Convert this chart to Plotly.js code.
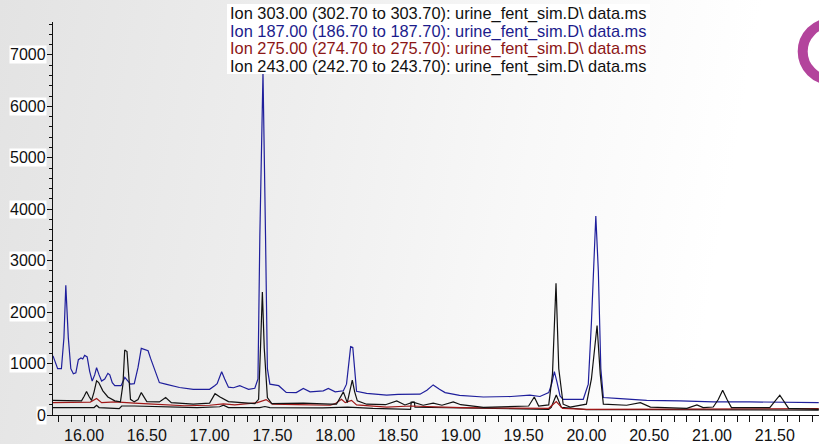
<!DOCTYPE html>
<html>
<head>
<meta charset="utf-8">
<script src="https://cdn.plot.ly/plotly-3.0.1.min.js"></script>
<style>
html,body{margin:0;padding:0;}
body{width:819px;height:444px;overflow:hidden;background:linear-gradient(100deg,#e3e3e3 0%,#eeeeee 35%,#f8f8f8 62%,#ffffff 85%);}
#chart{width:819px;height:444px;}
</style>
</head>
<body>
<div id="chart"></div>
<script>
// Legend lines (ion traces)
const legendLabels = [
  "Ion 303.00 (302.70 to 303.70): urine_fent_sim.D\\ data.ms",
  "Ion 187.00 (186.70 to 187.70): urine_fent_sim.D\\ data.ms",
  "Ion 275.00 (274.70 to 275.70): urine_fent_sim.D\\ data.ms",
  "Ion 243.00 (242.70 to 243.70): urine_fent_sim.D\\ data.ms"
];
const yTickValues = [0, 1000, 2000, 3000, 4000, 5000, 6000, 7000];
const yTickLabels = ["0", "1000", "2000", "3000", "4000", "5000", "6000", "7000"];

// Ion 303 (low black trace)
const rt303 = [15.753,16.08,16.10,16.12,16.28,16.30,16.40,16.70,16.90,17.08,17.11,17.15,17.40,17.44,17.48,17.90,18.10,18.30,18.55,18.60,18.605,18.63,18.635,19.00,19.40,19.70,19.72,19.76,19.80,20.00,20.50,21.00,21.50,21.85];
const int303 = [145,145,190,145,125,175,175,160,145,160,190,145,145,165,145,140,155,130,110,110,250,250,150,140,120,110,150,390,150,105,105,100,100,95];

// Ion 187 (blue trace)
const rt187 = [15.753,15.775,15.79,15.82,15.84,15.855,15.875,15.895,15.915,15.935,15.955,15.976,15.99,16.005,16.025,16.045,16.065,16.085,16.10,16.12,16.14,16.165,16.19,16.205,16.225,16.245,16.295,16.325,16.345,16.37,16.40,16.43,16.456,16.48,16.51,16.53,16.555,16.58,16.60,16.65,16.70,16.76,16.87,17.00,17.04,17.06,17.08,17.096,17.12,17.15,17.19,17.24,17.27,17.31,17.36,17.385,17.40,17.425,17.445,17.46,17.48,17.52,17.55,17.61,17.69,17.746,17.80,17.905,17.945,18.00,18.065,18.09,18.105,18.123,18.14,18.155,18.17,18.25,18.41,18.50,18.595,18.675,18.73,18.78,18.83,18.875,18.99,19.18,19.40,19.55,19.63,19.70,19.725,19.745,19.765,19.79,19.815,19.975,20.015,20.04,20.075,20.095,20.115,20.135,20.27,20.48,20.745,21.01,21.30,21.60,21.85];
const int187 = [1150,1000,900,900,1500,2520,1500,900,800,820,1075,1110,1090,1160,1130,850,660,780,920,780,660,700,810,780,630,570,570,730,680,600,610,925,1295,1280,1250,1100,925,760,630,600,570,535,500,500,570,610,740,840,700,540,530,570,540,500,520,700,3500,6660,3500,900,600,580,570,440,435,515,450,470,515,450,470,600,990,1330,1315,900,460,420,385,400,405,405,480,585,500,435,380,350,360,385,360,435,620,845,650,370,305,305,600,1800,3870,2800,900,340,320,285,275,255,255,245,240];

// Ion 275 (red trace)
const rt275 = [15.753,15.90,16.05,16.10,16.14,16.25,16.30,16.40,16.55,16.80,17.00,17.11,17.20,17.38,17.45,17.50,17.70,17.96,18.00,18.05,18.08,18.13,18.17,18.30,18.41,18.60,18.75,19.00,19.40,19.70,19.76,19.81,20.00,20.50,21.00,21.85];
const int275 = [240,240,250,320,240,255,245,230,210,180,190,215,195,240,300,210,200,190,220,305,240,285,195,170,155,175,165,145,135,130,260,130,110,115,120,125];

// Ion 243 (black trace with large peaks)
const rt243 = [15.753,15.98,16.00,16.02,16.04,16.06,16.08,16.10,16.117,16.15,16.19,16.245,16.29,16.31,16.324,16.342,16.355,16.37,16.40,16.43,16.456,16.48,16.50,16.60,16.65,16.695,16.87,17.00,17.043,17.083,17.11,17.15,17.36,17.39,17.405,17.42,17.435,17.46,17.495,17.746,17.96,18.01,18.065,18.096,18.115,18.136,18.155,18.176,18.25,18.40,18.49,18.555,18.62,18.70,18.78,18.85,18.94,19.00,19.18,19.54,19.585,19.62,19.70,19.73,19.758,19.78,19.815,19.87,20.00,20.04,20.085,20.11,20.135,20.32,20.43,20.51,20.80,20.88,20.93,21.01,21.05,21.085,21.12,21.155,21.46,21.54,21.61,21.85];
const int243 = [285,275,360,455,360,285,450,665,630,470,350,275,255,600,1265,1235,800,305,255,300,435,330,260,255,340,240,210,230,415,350,320,260,220,305,1300,2390,1300,340,220,230,210,210,450,240,450,680,450,275,210,200,275,195,250,190,230,190,255,200,150,175,350,175,195,800,2560,900,210,155,210,700,1740,800,210,190,240,155,130,195,145,155,300,480,300,145,145,385,130,110];

const legendColors = ["#111111", "#1c1c8c", "#8c1616", "#111111"];
const lineColors = ["#111111", "#1f1f9c", "#a01818", "#111111"];

const traces = [
  {x: rt303, y: int303, color: lineColors[0]},
  {x: rt187, y: int187, color: lineColors[1]},
  {x: rt275, y: int275, color: lineColors[2]},
  {x: rt243, y: int243, color: lineColors[3]}
].map(t => ({
  x: t.x, y: t.y, type: 'scatter', mode: 'lines',
  line: {color: t.color, width: 1.2},
  hoverinfo: 'skip', showlegend: false
}));

const W = 819, H = 444, mL = 53, mR = 0, mT = 22, mB = 29;
const pw = W - mL - mR, ph = H - mT - mB;
const px2x = p => (p - mL) / pw;
const py2y = p => (H - mB - p) / ph;

const annotations = [];
const legendPy = [13.5, 31, 48.5, 66];
legendLabels.forEach((txt, i) => {
  annotations.push({
    text: txt, xref: 'paper', yref: 'paper',
    x: px2x(229), y: py2y(legendPy[i]), xanchor: 'left', yanchor: 'middle',
    showarrow: false, borderpad: 0,
    font: {family: 'Liberation Sans, Arial, sans-serif', size: 16.4, color: legendColors[i]}
  });
});
yTickValues.forEach((v, i) => {
  annotations.push({
    text: yTickLabels[i], xref: 'paper', yref: 'y',
    x: 0, y: v, xanchor: 'right', yanchor: 'middle', xshift: -6,
    showarrow: false, bgcolor: '#ffffff', borderpad: 0,
    font: {family: 'Liberation Sans, Arial, sans-serif', size: 16, color: '#111111'}
  });
});

const layout = {
  width: W, height: H,
  margin: {l: mL, r: mR, t: mT, b: mB, pad: 0},
  paper_bgcolor: 'rgba(0,0,0,0)', plot_bgcolor: 'rgba(0,0,0,0)',
  showlegend: false,
  xaxis: {
    range: [15.753, 21.852], showgrid: false, zeroline: false,
    showline: true, linecolor: '#111111', linewidth: 1,
    ticks: 'outside', ticklen: 6, tickcolor: '#111111', tickwidth: 1,
    tick0: 16, dtick: 0.5, tickformat: '.2f',
    minor: {dtick: 0.1, tick0: 16, ticks: 'outside', ticklen: 6, tickcolor: '#111111', showgrid: false},
    tickfont: {family: 'Liberation Sans, Arial, sans-serif', size: 16, color: '#111111'}
  },
  yaxis: {
    range: [0, 7640], showgrid: false, zeroline: false,
    showline: true, linecolor: '#111111', linewidth: 1,
    ticks: 'outside', ticklen: 5, tickcolor: '#111111',
    tick0: 0, dtick: 1000, showticklabels: false,
    minor: {dtick: 200, ticks: 'outside', ticklen: 3, tickcolor: '#111111', showgrid: false}
  },
  annotations: annotations,
  shapes: [{
    type: 'rect', xref: 'paper', yref: 'paper', layer: 'above',
    x0: px2x(227), x1: px2x(650), y0: py2y(74), y1: py2y(4),
    line: {width: 0}, fillcolor: '#ffffff'
  }, {
    type: 'circle', xref: 'paper', yref: 'paper',
    x0: px2x(802.7), x1: px2x(859.7), y0: py2y(80), y1: py2y(23),
    line: {color: '#b3449c', width: 10}, fillcolor: 'rgba(0,0,0,0)'
  }]
};

Plotly.newPlot('chart', traces, layout, {displayModeBar: false, staticPlot: true});
</script>
</body>
</html>
